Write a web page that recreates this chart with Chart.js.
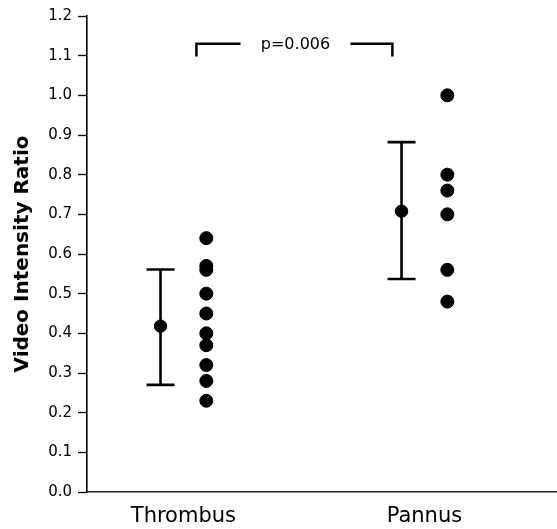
<!DOCTYPE html>
<html>
<head>
<meta charset="utf-8">
<script src="https://cdn.jsdelivr.net/npm/chart.js@4.4.1/dist/chart.umd.min.js"></script>
<style>
  html, body { margin: 0; padding: 0; background: #fff; }
  #wrap { width: 557px; height: 529px; }
</style>
</head>
<body>
<div id="wrap"><canvas id="chart" width="557" height="529"></canvas></div>
<script>
// values
const categories = ["Thrombus", "Pannus"];
const thrombusValues = [0.64, 0.57, 0.56, 0.50, 0.45, 0.40, 0.37, 0.32, 0.28, 0.23];
const pannusValues = [1.00, 0.80, 0.76, 0.70, 0.56, 0.48];
const means = [0.418, 0.708];
const errLow = [0.270, 0.537];
const errHigh = [0.561, 0.882];
const yTickValues = [0, 0.1, 0.2, 0.3, 0.4, 0.5, 0.6, 0.7, 0.8, 0.9, 1.0, 1.1, 1.2];
const pLabel = "p=0.006";

const SHIFT = 0.095; // mean left of category, raw points right of it

const groups = [thrombusValues, pannusValues];
const rawPoints = [];
groups.forEach((vals, i) => {
    vals.forEach((v) => rawPoints.push({ x: i + 1 + SHIFT, y: v }));
});
const meanPoints = means.map((m, i) => ({ x: i + 1 - SHIFT, y: m, lo: errLow[i], hi: errHigh[i] }));

const errorBars = {
    id: "errorBars",
    beforeDatasetsDraw(chart) {
        const { ctx, scales: { x, y } } = chart;
        ctx.save();
        ctx.strokeStyle = "#000";
        ctx.lineWidth = 2.6;
        meanPoints.forEach((p) => {
            const px = x.getPixelForValue(p.x);
            const top = y.getPixelForValue(p.hi);
            const bot = y.getPixelForValue(p.lo);
            ctx.beginPath();
            ctx.moveTo(px, top);
            ctx.lineTo(px, bot);
            ctx.moveTo(px - 14, top);
            ctx.lineTo(px + 14, top);
            ctx.moveTo(px - 14, bot);
            ctx.lineTo(px + 14, bot);
            ctx.stroke();
        });
        ctx.restore();
    }
};

const bracket = {
    id: "bracket",
    afterDraw(chart) {
        const { ctx, scales: { x, y } } = chart;
        const x1 = x.getPixelForValue(1.054);
        const x2 = x.getPixelForValue(1.867);
        const gapL = x.getPixelForValue(1.237);
        const gapR = x.getPixelForValue(1.693);
        const yTop = y.getPixelForValue(1.13);
        const yEnd = y.getPixelForValue(1.098);
        ctx.save();
        ctx.strokeStyle = "#000";
        ctx.lineWidth = 2.5;
        ctx.beginPath();
        ctx.moveTo(x1, yEnd);
        ctx.lineTo(x1, yTop);
        ctx.lineTo(gapL, yTop);
        ctx.moveTo(gapR, yTop);
        ctx.lineTo(x2, yTop);
        ctx.lineTo(x2, yEnd);
        ctx.stroke();
        ctx.fillStyle = "#000";
        ctx.font = "16px 'DejaVu Sans'";
        ctx.textAlign = "center";
        ctx.textBaseline = "middle";
        ctx.fillText(pLabel, (gapL + gapR) / 2, yTop + 1);
        ctx.restore();
    }
};

new Chart(document.getElementById("chart"), {
    type: "scatter",
    data: {
        datasets: [
            {
                label: "individual",
                data: rawPoints,
                backgroundColor: "#000",
                borderColor: "#000",
                pointRadius: 6.5,
                pointHoverRadius: 6.5
            },
            {
                label: "mean",
                data: meanPoints,
                backgroundColor: "#000",
                borderColor: "#000",
                pointRadius: 6.2,
                pointHoverRadius: 6.2
            }
        ]
    },
    options: {
        responsive: false,
        animation: false,
        layout: { autoPadding: false, padding: { top: 16, right: 0, bottom: 0, left: 0 } },
        plugins: {
            legend: { display: false },
            tooltip: { enabled: false }
        },
        scales: {
            x: {
                type: "linear",
                min: 0.6,
                max: 2.55,
                afterBuildTicks: (scale) => {
                    scale.ticks = categories.map((c, i) => ({ value: i + 1 }));
                },
                afterFit: (scale) => {
                    scale.height = 37;
                    scale.paddingLeft = 0;
                    scale.paddingRight = 0;
                },
                ticks: {
                    padding: 12,
                    color: "#000",
                    font: { family: "'DejaVu Sans'", size: 21 },
                    callback: (v) => categories[Math.round(v) - 1] || ""
                },
                grid: { display: false, drawTicks: false },
                border: { display: true, color: "#222", width: 1.6 }
            },
            y: {
                min: 0,
                max: 1.2,
                afterBuildTicks: (scale) => {
                    scale.ticks = yTickValues.map((v) => ({ value: v }));
                },
                afterFit: (scale) => { scale.width = 87; },
                ticks: {
                    padding: 6,
                    color: "#000",
                    font: { family: "'DejaVu Sans'", size: 15 },
                    callback: (v) => Number(v).toFixed(1)
                },
                grid: {
                    drawOnChartArea: false,
                    drawTicks: true,
                    tickLength: 9,
                    tickWidth: 1.3,
                    color: "#000"
                },
                border: { display: true, color: "#000", width: 1.6 },
                title: {
                    display: true,
                    text: "Video Intensity Ratio",
                    color: "#000",
                    font: { family: "'DejaVu Sans'", size: 20, weight: "bold" },
                    padding: { top: 11, bottom: 0 }
                }
            }
        }
    },
    plugins: [errorBars, bracket]
});
</script>
</body>
</html>
